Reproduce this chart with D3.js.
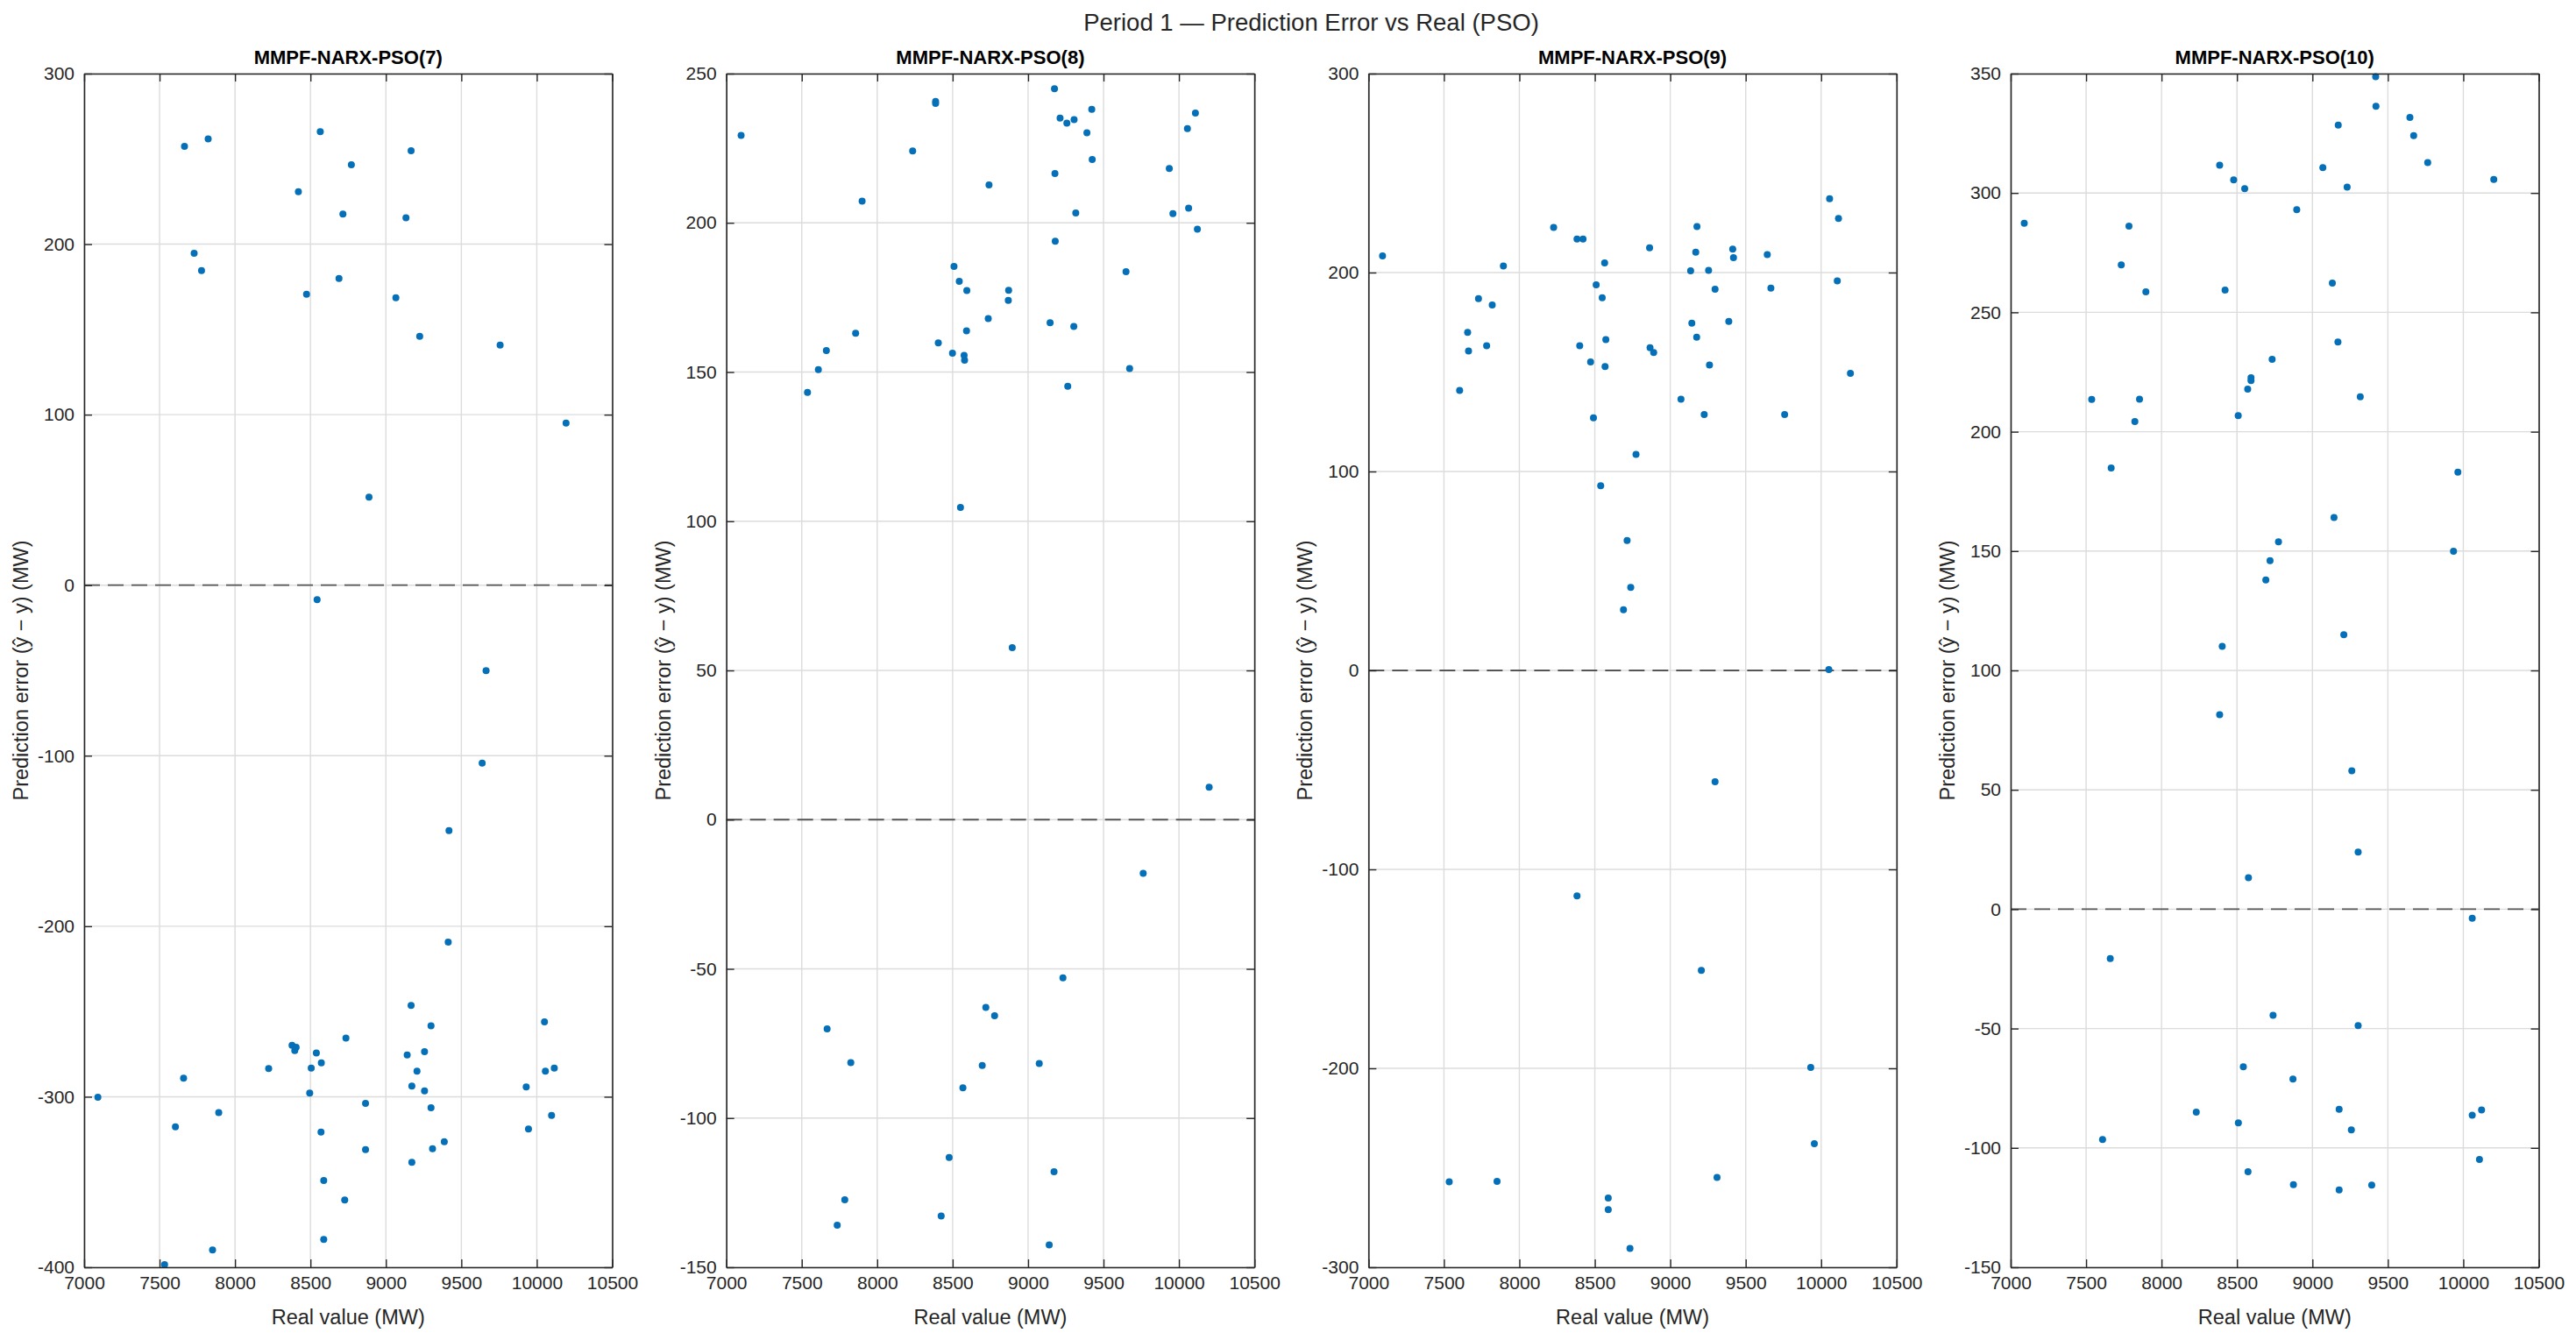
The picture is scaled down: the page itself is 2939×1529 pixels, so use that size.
<!DOCTYPE html>
<html>
<head>
<meta charset="utf-8">
<script src="https://cdn.jsdelivr.net/npm/d3@7/dist/d3.min.js"></script>
<style>
  html, body { margin: 0; padding: 0; background: #ffffff; }
  svg { display: block; }
  text { font-family: "Liberation Sans", Arial, Helvetica, sans-serif; }
</style>
</head>
<body>
<script>
// ---------------- DATA ----------------
const suptitle = "Period 1 \u2014 Prediction Error vs Real (PSO)";
const panelTitles = ["MMPF-NARX-PSO(7)", "MMPF-NARX-PSO(8)", "MMPF-NARX-PSO(9)", "MMPF-NARX-PSO(10)"];
const xTicks = [7000, 7500, 8000, 8500, 9000, 9500, 10000, 10500];
const xDomain = [7000, 10500];

const yDomain7 = [-400, 300];
const yTicks7 = [-400, -300, -200, -100, 0, 100, 200, 300];
const real7 = [7665, 7822, 8565, 9167, 8771, 8420, 8715, 9133, 7729, 7778, 8689, 8474, 9066, 9224, 9757, 10194, 8888, 8544, 9664,
  9638, 9418, 9413, 9167, 10051, 9299, 8735, 8378, 8396, 8405, 8539, 9256, 9141, 8572, 8223, 8505, 10116, 10057, 9206, 7659,
  9172, 9930, 9256, 8495, 7091, 8865, 9299, 7892, 10098, 7605, 9945, 8570, 9387, 9309, 8865, 9172, 8588, 8727, 8588, 7851, 7533];
const err7 = [257.4, 261.7, 265.9, 254.8, 246.5, 230.7, 217.7, 215.5, 194.7, 184.5, 179.8, 170.6, 168.5, 146.0, 140.8, 95.1, 51.6, -8.5, -50.1,
  -104.4, -143.9, -209.3, -246.5, -256.1, -258.4, -265.6, -269.8, -272.9, -271.0, -274.4, -273.6, -275.5, -280.1, -283.5, -283.2, -283.2, -285.0, -285.0, -289.1,
  -293.8, -294.3, -296.6, -297.9, -300.3, -303.9, -306.5, -309.3, -310.9, -317.6, -318.9, -320.7, -326.4, -330.5, -331.0, -338.5, -349.1, -360.5, -383.7, -389.9, -398.4];

const yDomain8 = [-150, 250];
const yTicks8 = [-150, -100, -50, 0, 50, 100, 150, 200, 250];
const real8 = [7098, 8387, 8387, 8235, 7900, 8741, 9175, 9212, 9257, 9305, 9422, 9390, 9425, 10109, 10056, 9936, 9178, 9316, 9960, 10064,
  10122, 9180, 9649, 8509, 8544, 8594, 8871, 8869, 8736, 9146, 9303, 7857, 8592, 8405, 7663, 8499, 8576, 8579, 7610, 9673,
  7538, 9263, 8552, 8895,
  10200, 9763, 9231, 8720, 8778, 7668, 7825, 9074, 8696, 8568, 8477, 9172, 7785, 8424, 7735, 9140];
const err8 = [229.3, 240.7, 240.0, 224.1, 207.3, 212.7, 244.9, 235.1, 233.4, 234.6, 238.0, 230.2, 221.2, 236.8, 231.6, 218.2, 216.5, 203.3, 203.1, 204.9,
  197.9, 193.8, 183.6, 185.4, 180.4, 177.3, 177.4, 174.0, 167.9, 166.5, 165.3, 163.0, 163.8, 159.8, 157.2, 156.3, 155.6, 154.0, 150.8, 151.2,
  143.2, 145.2, 104.6, 57.6,
  10.9, -18.0, -53.0, -62.9, -65.7, -70.1, -81.4, -81.7, -82.4, -89.9, -113.2, -118.0, -127.4, -132.8, -135.9, -142.5];

const yDomain9 = [-300, 300];
const yTicks9 = [-300, -200, -100, 0, 100, 200, 300];
const real9 = [7093, 8227, 8382, 8422, 8863, 9177, 9169, 9414, 9419, 9643, 10056, 10115, 7894, 8565, 9135, 9254, 8509, 10107, 9297, 9667,
  7729, 8549, 7820, 9143, 9388, 7657, 9175, 8573, 7783, 8400, 8866, 8890, 7663, 8472, 8568, 9260, 10194, 7604, 9071, 8491,
  9225, 9758, 8773, 8539, 8714, 8738, 8690, 10051,
  9297, 8382, 9206, 9931, 9955, 9310, 7535, 7852, 8589, 8589, 8733];
const err9 = [208.4, 222.7, 216.9, 216.9, 212.4, 223.1, 210.2, 211.8, 207.5, 209.0, 237.1, 227.2, 203.3, 204.9, 200.9, 201.1, 193.8, 195.8, 191.6, 192.2,
  186.9, 187.3, 183.7, 174.6, 175.4, 169.9, 167.5, 166.3, 163.2, 163.2, 162.2, 159.8, 160.6, 155.1, 152.7, 153.5, 149.3, 140.8, 136.3, 127.0,
  128.6, 128.6, 108.6, 92.8, 65.3, 41.7, 30.5, 0.4,
  -55.9, -113.3, -150.8, -199.6, -237.9, -254.8, -257.0, -256.8, -265.2, -271.0, -290.5];

const yDomain10 = [-150, 350];
const yTicks10 = [-150, -100, -50, 0, 50, 100, 150, 200, 250, 300, 350];
const real10 = [7090, 9419, 9421, 9646, 9171, 9671, 9764, 8385, 9069, 8478, 10202, 8551, 9230, 8896, 7784, 7733, 9132, 7896, 8421, 9169,
  8733, 8593, 8593, 8571, 7537, 7854, 9317, 7823, 8508, 7666, 9964, 9143, 8775, 8719, 8691, 9935, 9208, 8402,
  8385, 9261, 9303, 8576, 10059, 7660, 8739, 9303, 8542, 8871, 8230, 9177, 10121, 10059, 8509, 9258, 7609, 10107, 8573, 8874, 9177, 9393];
const err10 = [287.3, 348.7, 336.3, 331.6, 328.4, 324.0, 312.7, 311.6, 310.6, 305.5, 305.7, 301.8, 302.5, 293.0, 286.1, 269.9, 262.3, 258.6, 259.3, 237.6,
  230.3, 222.6, 221.4, 217.8, 213.5, 213.6, 214.6, 204.3, 206.7, 184.8, 183.1, 164.1, 153.9, 146.0, 137.9, 149.9, 115.0, 110.1,
  81.5, 58.0, 23.9, 13.2, -3.8, -20.7, -44.5, -48.8, -66.0, -71.2, -85.0, -83.8, -84.1, -86.3, -89.5, -92.5, -96.5, -104.8, -110.0, -115.4, -117.6, -115.6];

const xLabel = "Real value (MW)";
const yLabel = "Prediction error (\u0177 \u2212 y) (MW)";

// ---------------- LAYOUT ----------------
const W = 2939, H = 1529;
const plotTop = 84, plotBottom = 1446;
const firstLeft = 96, panelStep = 732.67, panelWidth = 602.5;
const textColor = "#262626";
const markColor = "#0570b8";

const panels = [
  { title: panelTitles[0], real: real7, err: err7, yDomain: yDomain7, yTicks: yTicks7 },
  { title: panelTitles[1], real: real8, err: err8, yDomain: yDomain8, yTicks: yTicks8 },
  { title: panelTitles[2], real: real9, err: err9, yDomain: yDomain9, yTicks: yTicks9 },
  { title: panelTitles[3], real: real10, err: err10, yDomain: yDomain10, yTicks: yTicks10 }
];

const svg = d3.select("body").append("svg")
  .attr("width", W).attr("height", H)
  .attr("viewBox", `0 0 ${W} ${H}`);

svg.append("rect").attr("width", W).attr("height", H).attr("fill", "#ffffff");

svg.append("text")
  .attr("x", 1496).attr("y", 35)
  .attr("text-anchor", "middle")
  .attr("font-size", 27.5)
  .attr("fill", textColor)
  .text(suptitle);

const fmt = d => String(d);

panels.forEach((p, i) => {
  const left = firstLeft + i * panelStep;
  const right = left + panelWidth;
  const x = d3.scaleLinear().domain(xDomain).range([left, right]);
  const y = d3.scaleLinear().domain(p.yDomain).range([plotBottom, plotTop]);
  const g = svg.append("g");

  // grid
  g.append("g").selectAll("line").data(xTicks).join("line")
    .attr("x1", d => x(d)).attr("x2", d => x(d))
    .attr("y1", plotTop).attr("y2", plotBottom)
    .attr("stroke", "#dcdcdc").attr("stroke-width", 1.4);
  g.append("g").selectAll("line").data(p.yTicks).join("line")
    .attr("x1", left).attr("x2", right)
    .attr("y1", d => y(d)).attr("y2", d => y(d))
    .attr("stroke", "#dcdcdc").attr("stroke-width", 1.4);

  // zero reference line
  g.append("line")
    .attr("x1", left).attr("x2", right)
    .attr("y1", y(0)).attr("y2", y(0))
    .attr("stroke", "#555555").attr("stroke-width", 1.8)
    .attr("stroke-dasharray", "18,9");

  // points
  g.append("g").selectAll("circle").data(p.real.map((r, k) => [r, p.err[k]])).join("circle")
    .attr("cx", d => x(d[0])).attr("cy", d => y(d[1]))
    .attr("r", 4).attr("fill", markColor);

  // axes
  const styleAxis = sel => {
    sel.select(".domain").attr("stroke", textColor).attr("stroke-width", 1.6);
    sel.selectAll(".tick line").attr("stroke", textColor).attr("stroke-width", 1.4);
    sel.selectAll(".tick text").attr("fill", textColor).attr("font-size", 21)
      .attr("font-family", "'Liberation Sans', Arial, sans-serif");
  };
  g.append("g").attr("transform", `translate(0,${plotBottom})`)
    .call(d3.axisBottom(x).tickValues(xTicks).tickFormat(fmt).tickSizeInner(-9).tickSizeOuter(0).tickPadding(10))
    .call(styleAxis);
  g.append("g").attr("transform", `translate(0,${plotTop})`)
    .call(d3.axisTop(x).tickValues(xTicks).tickFormat("").tickSizeInner(-9).tickSizeOuter(0))
    .call(styleAxis);
  g.append("g").attr("transform", `translate(${left},0)`)
    .call(d3.axisLeft(y).tickValues(p.yTicks).tickFormat(fmt).tickSizeInner(-9).tickSizeOuter(0).tickPadding(11))
    .call(styleAxis);
  g.append("g").attr("transform", `translate(${right},0)`)
    .call(d3.axisRight(y).tickValues(p.yTicks).tickFormat("").tickSizeInner(-9).tickSizeOuter(0))
    .call(styleAxis);

  // title
  g.append("text")
    .attr("x", (left + right) / 2).attr("y", 73)
    .attr("text-anchor", "middle")
    .attr("font-size", 22).attr("font-weight", "bold")
    .attr("fill", "#000000")
    .text(p.title);

  // x label
  g.append("text")
    .attr("x", (left + right) / 2).attr("y", 1511)
    .attr("text-anchor", "middle")
    .attr("font-size", 23.5)
    .attr("fill", textColor)
    .text(xLabel);

  // y label
  const ly = (plotTop + plotBottom) / 2;
  g.append("text")
    .attr("transform", `translate(${left - 64},${ly}) rotate(-90)`)
    .attr("text-anchor", "middle")
    .attr("font-size", 23.5)
    .attr("fill", textColor)
    .text(yLabel);
});
</script>
</body>
</html>
